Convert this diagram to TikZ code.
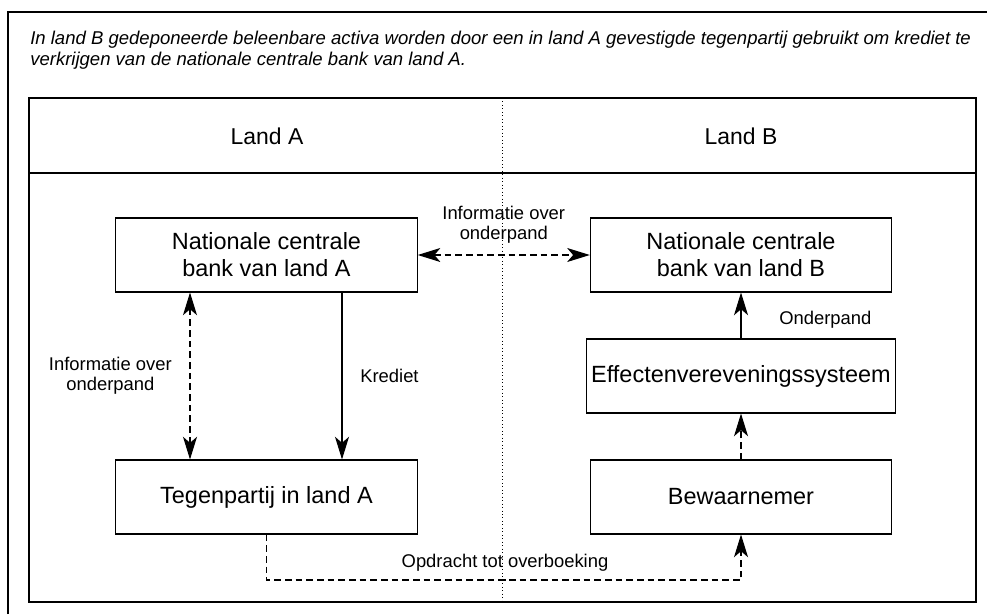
\documentclass[tikz,border=0pt]{standalone}
\usepackage{fontspec}
\setmainfont{Liberation Sans}
\usetikzlibrary{arrows.meta}

\begin{document}
\begin{tikzpicture}[x=0.75pt,y=-0.75pt,
  >={Stealth[length=17pt,width=10.5pt,inset=4.5pt]},
  box/.style={draw,line width=0.8pt,minimum width=226pt,minimum height=55.5pt,
    align=center,font=\fontsize{17.6}{20.3}\selectfont},
  lbl/.style={align=center,font=\fontsize{13.8}{14.8}\selectfont},
  frame/.style={line width=1pt},
  dashline/.style={dash pattern=on 5pt off 3pt,line width=0.8pt}]
\useasboundingbox (0,0) rectangle (987,614);
\def\pijl#1#2#3#4#5{\draw[#5] (#1) -- (#2) node[midway,#4]{#3};}

% kaders
\draw[frame] (8,614) -- (8,12) -- (987,12);
\node[anchor=north west,align=left,inner sep=0pt,
  font=\fontsize{13.9}{15.8}\selectfont\itshape] (titel) at (30,31)
  {In land B gedeponeerde beleenbare activa worden door een in land A gevestigde tegenpartij gebruikt om krediet te\\
   verkrijgen van de nationale centrale bank van land A.};
\draw[frame] (29,98) rectangle (976,602);
\draw[frame] (29,173) -- (976,173);
\draw[dotted,line width=0.6pt] (502,98) -- (502,602);
\node[font=\fontsize{17.2}{20}\selectfont] at (267,136) (landA) {Land A};
\node[font=\fontsize{17.2}{20}\selectfont] at (741,136) (landB) {Land B};

% knopen
\node[box] at (266.5,255) (ncbA) {Nationale centrale\\bank van land A};
\node[box] at (741,255) (ncbB) {Nationale centrale\\bank van land B};
\node[box] at (741,376) (ess) {Effectenvereveningssysteem};
\node[box] at (266.5,497) (tegen) {Tegenpartij in land A};
\node[box] at (741,497) (bew) {Bewaarnemer};

\coordinate (infoA) at (190,0);
\coordinate (kred) at (342,0);
\coordinate (route) at (505,580);

% ncbA <-> ncbB
\pijl{ncbA}{ncbB}{Informatie over\\onderpand}{lbl,above=5pt}{<->,dashline}

% ncbA <-> tegen
\pijl{ncbA.south -| infoA}{tegen.north -| infoA}{Informatie over\\onderpand}{lbl,left=10pt}{<->,dashline}
\pijl{ncbA.south -| kred}{tegen.north -| kred}{Krediet}{lbl,right=10pt}{->,line width=0.8pt}

% bew -> ess -> ncbB
\pijl{ess}{ncbB}{Onderpand}{lbl,right=25pt,yshift=-3pt}{->,line width=0.8pt}
\pijl{bew}{ess}{}{}{->,dashline}

% tegen -> bew
\draw[->,dashline] (tegen.south) |- (route) -| (bew.south);
\node[lbl,above=3pt] at (route) (opdr) {Opdracht tot overboeking};
\end{tikzpicture}
\end{document}
